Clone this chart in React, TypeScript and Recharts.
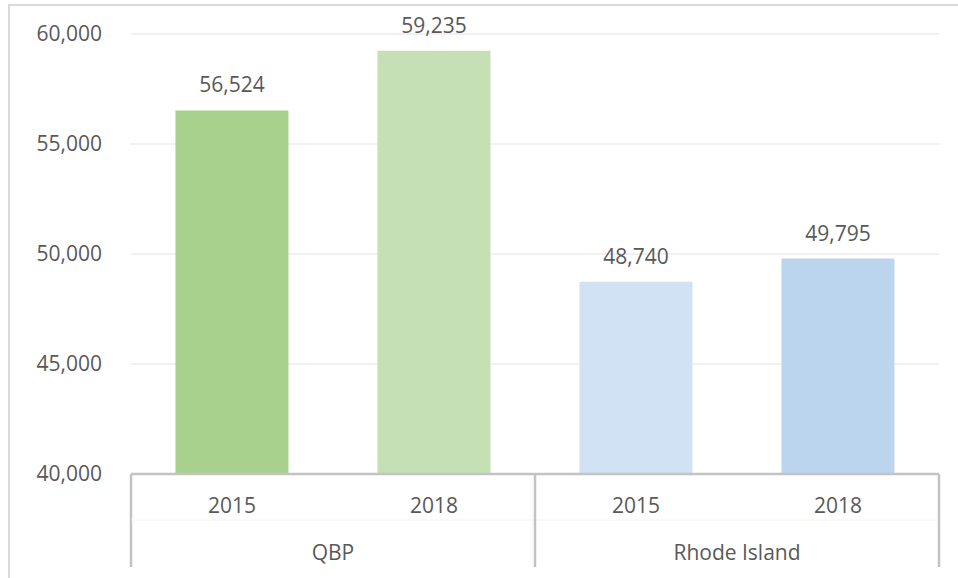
import React from 'react';
import { BarChart, Bar, XAxis, YAxis, CartesianGrid, Cell, LabelList } from 'recharts';

const years = ['2015', '2018', '2015', '2018'];
const groups = ['QBP', 'QBP', 'Rhode Island', 'Rhode Island'];
const values = [56524, 59235, 48740, 49795];
const barColors = ['#a9d18e', '#c5e0b4', '#d0e2f4', '#bcd5ee'];
const yTicks = [40000, 45000, 50000, 55000, 60000];

const data = years.map((y, i) => ({ key: `${groups[i]}-${y}`, year: y, group: groups[i], value: values[i] }));

const FONT = '"Open Sans", sans-serif';
const TEXT = '#595959';
const LINE = '#c3c3c3';

const fmt = (v: number) => v.toLocaleString('en-US');

const XTick = (props: any) => {
  const { x, y, payload, index } = props;
  const half = payload && payload.offset ? payload.offset : 101;
  const d = data[index];
  const els: React.ReactNode[] = [];
  els.push(
    <text key="yr" x={x} y={y + 31} textAnchor="middle" dominantBaseline="central" fill={TEXT} fontSize={21} fontFamily={FONT}>
      {d ? d.year : payload.value}
    </text>
  );
  // group start separator
  if (index === 0 || index === 2) {
    els.push(<line key="sep" x1={x - half} x2={x - half} y1={y} y2={y + 93} stroke={LINE} strokeWidth={2.5} />);
    els.push(
      <text key="grp" x={x + half} y={y + 78} textAnchor="middle" dominantBaseline="central" fill={TEXT} fontSize={21} fontFamily={FONT}>
        {d.group}
      </text>
    );
  }
  if (index === data.length - 1) {
    els.push(<line key="sepEnd" x1={x + half} x2={x + half} y1={y} y2={y + 93} stroke={LINE} strokeWidth={2.5} />);
  }
  if (index === 0) {
    els.push(<line key="mid" x1={x - half} x2={x - half + half * 2 * data.length} y1={y + 46} y2={y + 46} stroke="#f4f4f4" strokeWidth={1} />);
  }
  return <g>{els}</g>;
};

export default function App() {
  return (
    <div style={{ position: 'absolute', left: 0, top: 0, width: 958, height: 578, background: '#fff', overflow: 'hidden' }}>
      <div style={{ position: 'absolute', left: 8, top: 4, width: 980, height: 600, border: '2px solid #d9d9d9', boxSizing: 'border-box' }} />
      <div style={{ position: 'absolute', left: 0, top: 0 }}>
        <BarChart width={958} height={578} data={data} margin={{ top: 34, right: 19, left: 0, bottom: 0 }} barCategoryGap="22%">
          <CartesianGrid vertical={false} stroke="#ececec" strokeWidth={1.5} />
          <YAxis
            domain={[40000, 60000]}
            ticks={yTicks}
            width={131}
            axisLine={false}
            tickLine={false}
            tickSize={0}
            tickMargin={29}
            tickFormatter={fmt}
            tick={{ fill: TEXT, fontSize: 21, fontFamily: FONT }}
            allowDataOverflow
          />
          <XAxis
            dataKey="key"
            height={104}
            axisLine={{ stroke: LINE, strokeWidth: 2.5 }}
            tickLine={false}
            tickSize={0}
            tickMargin={0}
            interval={0}
            tick={<XTick />}
          />
          <Bar dataKey="value" isAnimationActive={false}>
            {data.map((d, i) => (
              <Cell key={d.key} fill={barColors[i]} />
            ))}
            <LabelList dataKey="value" position="top" offset={18} formatter={(v: any) => fmt(Number(v))} fill={TEXT} fontSize={21} fontFamily={FONT} />
          </Bar>
        </BarChart>
      </div>
    </div>
  );
}
